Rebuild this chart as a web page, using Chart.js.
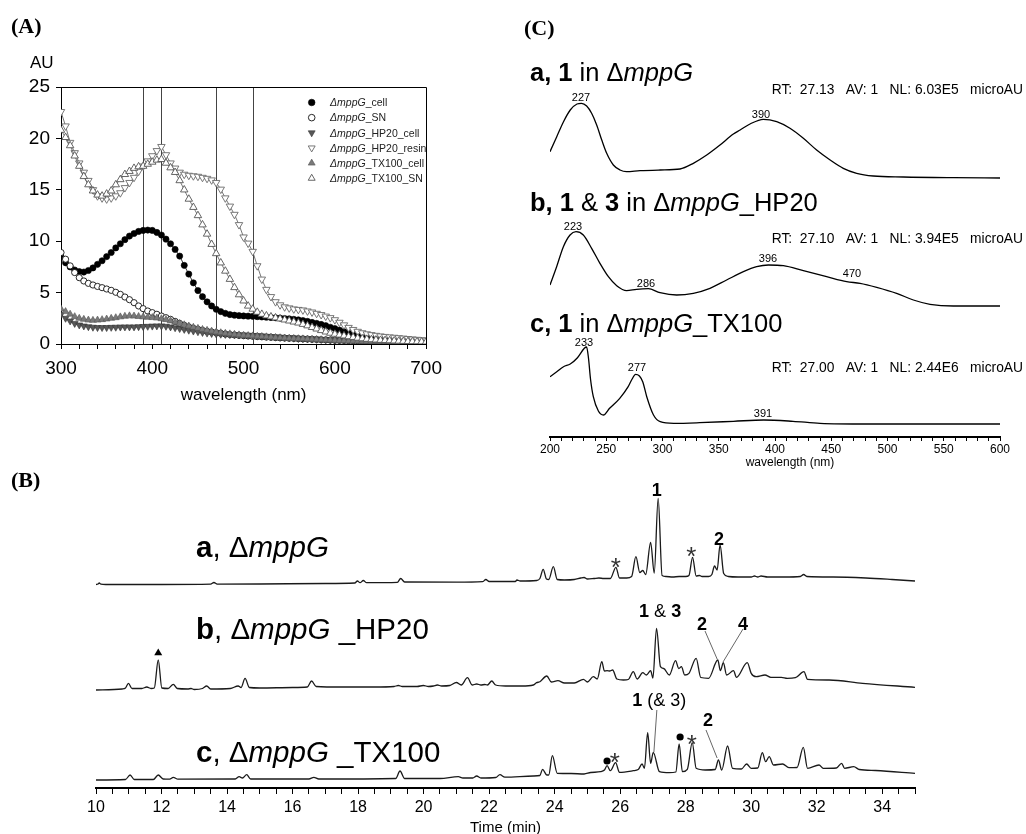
<!DOCTYPE html>
<html><head><meta charset="utf-8">
<script src="https://cdn.jsdelivr.net/npm/chart.js@4.4.1/dist/chart.umd.min.js"></script>
<style>
html,body{margin:0;padding:0;width:1026px;height:834px;overflow:hidden;background:#fff;}
canvas{position:absolute;}
</style></head><body>
<canvas id="cA" width="450" height="420" style="left:0;top:0"></canvas>
<canvas id="cC" width="506" height="470" style="left:520px;top:0"></canvas>
<canvas id="cB" width="1026" height="377" style="left:0;top:460px"></canvas>
<script>
// ================= DATA =================
// Panel A: absorbance spectra (AU) every 5 nm, 300-700 nm
const wavelengths = [];
for (let w = 300; w <= 700; w += 5) wavelengths.push(w);
const aSeriesNames = ['ΔmppG_cell','ΔmppG_SN','ΔmppG_HP20_cell','ΔmppG_HP20_resin','ΔmppG_TX100_cell','ΔmppG_TX100_SN'];
const cellAU = [8.5,7.9,7.5,7.2,7.05,7.0,7.15,7.4,7.75,8.1,
 8.5,8.9,9.35,9.75,10.15,10.5,10.75,10.95,11.05,11.08,
 11.05,10.85,10.6,10.2,9.75,9.2,8.55,7.65,6.8,5.95,
 5.2,4.6,4.1,3.7,3.38,3.15,2.98,2.86,2.8,2.76,
 2.73,2.71,2.69,2.66,2.63,2.6,2.57,2.55,2.52,2.48,
 2.45,2.4,2.35,2.28,2.2,2.1,2.0,1.9,1.78,1.63,
 1.5,1.35,1.2,1.05,0.9,0.78,0.68,0.6,0.52,0.46,
 0.41,0.37,0.34,0.31,0.28,0.25,0.22,0.19,0.16,0.13,
 0.1];
const snAU = [8.9,8.25,7.6,6.95,6.45,6.13,5.9,5.74,5.6,5.48,
 5.35,5.22,5.03,4.83,4.57,4.31,4.02,3.7,3.44,3.21,
 3.05,2.89,2.72,2.56,2.4,2.2,2.0,1.82,1.66,1.53,
 1.43,1.33,1.24,1.17,1.1,1.04,0.97,0.92,0.88,0.84,
 0.81,0.78,0.75,0.72,0.7,0.67,0.65,0.62,0.6,0.58,
 0.56,0.54,0.52,0.5,0.48,0.46,0.44,0.42,0.4,0.38,
 0.36,0.35,0.34,0.33,0.32,0.31,0.3,0.29,0.28,0.27,
 0.26,0.25,0.24,0.23,0.22,0.21,0.2,0.19,0.18,0.17,
 0.16];
const hp20CellAU = [2.9,2.5,2.24,2.0,1.85,1.75,1.68,1.63,1.6,1.6,
 1.6,1.62,1.63,1.65,1.66,1.66,1.66,1.68,1.7,1.72,
 1.74,1.76,1.76,1.72,1.66,1.58,1.5,1.42,1.34,1.26,
 1.19,1.12,1.06,1.02,0.98,0.95,0.93,0.91,0.9,0.88,
 0.87,0.85,0.83,0.81,0.78,0.75,0.72,0.69,0.66,0.63,
 0.6,0.57,0.54,0.52,0.5,0.48,0.46,0.44,0.42,0.4,
 0.38,0.36,0.34,0.32,0.3,0.29,0.28,0.27,0.26,0.25,
 0.24,0.23,0.22,0.21,0.2,0.19,0.18,0.17,0.16,0.15,
 0.14];
const hp20ResinAU = [22.6,21.2,19.6,18.6,17.6,16.7,15.9,15.0,14.4,14.2,
 14.1,14.2,14.4,14.7,15.2,15.7,16.2,16.8,17.3,17.8,
 18.3,18.8,19.2,18.4,17.6,17.1,16.7,16.5,16.4,16.35,
 16.3,16.2,16.1,15.95,15.7,15.05,14.2,13.4,12.6,11.6,
 10.4,9.8,9.0,7.6,6.3,5.3,4.6,4.1,3.8,3.6,
 3.5,3.4,3.35,3.3,3.2,3.1,2.97,2.85,2.7,2.55,
 2.35,2.1,1.85,1.6,1.4,1.22,1.08,0.98,0.9,0.83,
 0.77,0.72,0.68,0.64,0.6,0.56,0.52,0.48,0.44,0.4,
 0.36];
const tx100CellAU = [3.4,3.15,2.9,2.66,2.5,2.4,2.33,2.3,2.33,2.37,
 2.43,2.5,2.56,2.64,2.7,2.74,2.72,2.68,2.64,2.6,
 2.57,2.53,2.46,2.37,2.25,2.12,2.0,1.87,1.75,1.63,
 1.52,1.42,1.33,1.25,1.17,1.1,1.04,0.99,0.94,0.89,
 0.85,0.82,0.79,0.76,0.73,0.7,0.67,0.64,0.61,0.58,
 0.56,0.54,0.52,0.5,0.48,0.46,0.44,0.42,0.4,0.38,
 0.36,0.34,0.32,0.3,0.29,0.28,0.27,0.26,0.25,0.24,
 0.23,0.22,0.21,0.2,0.19,0.18,0.17,0.16,0.15,0.14,
 0.13];
const tx100SnAU = [20.8,20.1,19.3,18.3,17.3,16.3,15.5,14.9,14.5,14.4,
 14.6,14.9,15.5,16.0,16.5,16.8,17.1,17.25,17.3,17.5,
 17.7,17.9,17.96,17.6,17.15,16.7,15.9,15.0,14.1,13.3,
 12.5,11.6,10.7,9.7,8.8,7.9,7.1,6.3,5.5,4.8,
 4.2,3.7,3.4,3.1,2.9,2.75,2.65,2.55,2.45,2.35,
 2.25,2.15,2.05,1.92,1.78,1.62,1.47,1.32,1.18,1.06,
 0.96,0.88,0.8,0.72,0.65,0.58,0.52,0.47,0.43,0.4,
 0.37,0.35,0.33,0.31,0.29,0.27,0.25,0.24,0.23,0.22,
 0.21];
const aSeries = [cellAU, snAU, hp20CellAU, hp20ResinAU, tx100CellAU, tx100SnAU];
const aMarkedWavelengths = [390, 410, 470, 510];
const aYTicks = {min:0, max:25, step:5};
const aXTicks = {min:300, max:700, step:20, labelEvery:100};

// Panel B: HPLC chromatograms, [time (min), signal]
const bTimeTicks = {min:10, max:35, step:0.5, labelEvery:2};
const bTraceNames = [
  [['a','b'],[', ',''],['Δ',''],['mppG','i']],
  [['b','b'],[', ',''],['Δ',''],['mppG','i'],[' _HP20','']],
  [['c','b'],[', ',''],['Δ',''],['mppG','i'],[' _TX100','']]
];
const traceA = [[10.0,0],[10.06,0.5],[10.1,1.5],[10.15,0.3],[10.3,0],[12,0],[13.5,0.3],[13.6,2],[13.7,0.4],[15,0.5],[17,1],[17.9,1.5],[17.98,3.5],[18.06,1.8],[18.16,4],[18.26,1.8],[19.2,2.2],[19.3,6],[19.42,2.5],[21,2.3],[21.8,2.8],[21.9,5],[22,3],[22.8,3],[22.85,4.5],[22.95,3.5],[23.45,4],[23.55,6],[23.65,15.2],[23.75,5.5],[23.82,5],[23.96,17.8],[24.08,5],[24.3,4.5],[24.6,5],[24.8,6.5],[24.9,7],[25.0,5.5],[25.2,6],[25.35,6.5],[25.5,6],[25.7,6],[25.87,17.2],[25.98,6.5],[26.2,6.5],[26.35,8],[26.48,27.8],[26.6,12],[26.69,14],[26.78,10],[26.93,42.2],[27.04,11.5],[27.16,86.2],[27.28,9],[27.4,8],[27.6,7.5],[27.8,8],[28.0,8],[28.1,9],[28.21,27.2],[28.32,8.5],[28.42,9],[28.5,8],[28.7,8],[28.8,10],[28.88,18.5],[28.96,14.5],[29.05,39.5],[29.16,11],[29.3,8],[29.6,7.5],[30.0,7.5],[30.1,8.5],[30.2,7.5],[30.3,8.5],[30.5,7.5],[31.0,7.5],[31.5,8],[31.6,10],[31.7,8],[32.5,7.5],[33.5,6.5],[34.3,5],[35.0,3.5]];
const traceB = [[10.0,0],[10.8,1],[10.9,2],[10.99,6.7],[11.1,1.5],[11.4,1.5],[11.55,3],[11.68,1.5],[11.78,2],[11.9,30],[12.01,2],[12.2,1.5],[12.36,5.7],[12.48,1.5],[12.8,1],[12.9,1.5],[13.0,0.5],[13.25,1.5],[13.38,4],[13.5,1],[14.1,1.5],[14.34,4],[14.43,2.5],[14.55,11.7],[14.68,2.5],[15,2],[16,2.5],[16.45,3],[16.58,9],[16.72,3.5],[17.5,3],[18.04,3],[18.5,3],[19.1,3.5],[19.23,4.5],[19.35,3.5],[19.8,3.5],[19.99,4.5],[20.15,3.5],[20.3,4],[20.42,5],[20.55,4],[20.8,4.5],[21.0,7.5],[21.15,5],[21.34,12.3],[21.48,5],[21.62,6],[21.75,5],[21.87,5.5],[21.95,5],[22.08,9],[22.2,5],[22.5,4],[23.0,4],[23.35,5],[23.45,7.3],[23.55,8.3],[23.76,14],[23.9,8],[24.1,9.3],[24.3,7],[24.6,7],[24.88,10.7],[25.0,8],[25.18,13.3],[25.3,11],[25.44,28.3],[25.52,19],[25.6,19.3],[25.68,19],[25.77,20],[25.9,11],[26.1,10],[26.25,10.5],[26.4,18.3],[26.52,11],[26.69,17.3],[26.8,15],[26.93,19.3],[27.0,12],[27.11,61.7],[27.23,23.3],[27.33,21.5],[27.5,15],[27.69,29.3],[27.79,21.5],[27.87,23.3],[27.97,15],[28.1,16.7],[28.32,31.7],[28.46,12.5],[28.7,11.7],[28.98,30],[29.06,19.3],[29.15,27.3],[29.25,15],[29.46,19.3],[29.55,12.7],[29.88,27.3],[30.0,16.7],[30.15,13.3],[30.42,15],[30.6,12.7],[30.92,12.7],[31.1,11.7],[31.35,12.3],[31.61,18.3],[31.72,10.7],[32.38,10],[33.4,6.7],[35.0,2.7]];
const traceC = [[10.0,0],[10.9,0.5],[11.04,5],[11.17,0.5],[11.75,0.5],[11.9,5],[12.05,1],[12.25,0.8],[12.36,2.7],[12.5,0.8],[14.25,1],[14.37,3.3],[14.47,2],[14.6,5.3],[14.72,1],[16.5,1],[16.65,2.7],[16.8,1],[19.15,1.5],[19.28,9],[19.42,1.5],[20.5,1.5],[21.06,3.3],[21.2,2],[21.5,2],[21.62,4],[21.75,2],[22.2,2.5],[22.33,5.3],[22.48,2.8],[23.35,4],[23.55,4.5],[23.63,10.7],[23.76,5],[23.82,5],[23.93,24.3],[24.08,6.7],[24.5,6.5],[24.9,6],[25.1,7.5],[25.4,8.3],[25.52,10],[25.6,14.3],[25.7,9.3],[25.86,17.3],[25.98,7.7],[26.4,9.3],[26.55,10.5],[26.67,16],[26.74,11.7],[26.84,47.3],[26.93,16.7],[27.01,27.7],[27.2,8.3],[27.5,7.3],[27.7,8],[27.8,36],[27.9,8.3],[28.05,10.7],[28.2,37.3],[28.32,11.7],[28.6,10],[28.9,10.5],[29.0,20],[29.1,10],[29.28,34],[29.43,11.7],[29.7,11],[29.86,16],[30.0,11.7],[30.2,12],[30.34,27.3],[30.44,18.3],[30.55,23.3],[30.68,15],[30.96,16],[31.15,12.3],[31.4,12.5],[31.59,32.7],[31.72,11.7],[32.07,15],[32.2,11.7],[32.6,12],[32.76,16.7],[32.85,11.7],[33.13,13.3],[33.3,10.5],[33.8,9.5],[35.0,6.7]];
const bTraces = [traceA, traceB, traceC];
const bOffsets = [203.5, 98, 8];           // vertical stacking of the three traces
// peak annotations: trace, time, level above trace baseline, text segments
const bNotes = [
  {tr:0, t:27.12, v:94.5, segs:[['1','b']]},
  {tr:0, t:29.02, v:45.5, segs:[['2','b']]},
  {tr:0, t:25.87, v:23.5, star:true},
  {tr:0, t:28.17, v:34.5, star:true},
  {tr:1, t:27.22, v:79, segs:[['1','b'],[' & ',''],['3','b']]},
  {tr:1, t:28.5, v:66, segs:[['2','b']]},
  {tr:1, t:29.75, v:66, segs:[['4','b']]},
  {tr:2, t:27.19, v:80, segs:[['1','b'],[' (& 3)','']]},
  {tr:2, t:28.68, v:60, segs:[['2','b']]},
  {tr:2, t:25.84, v:24, star:true},
  {tr:2, t:28.19, v:42, star:true}
];
const bDots = [{tr:2, t:25.6, v:19}, {tr:2, t:27.83, v:43}];
const bTriangles = [{tr:1, t:11.9, v:38}];
const bLeaders = [
  {tr:1, t1:28.59, v1:59, t2:28.96, v2:31},
  {tr:1, t1:29.75, v1:61, t2:29.14, v2:28},
  {tr:2, t1:27.12, v1:70, t2:27.03, v2:28},
  {tr:2, t1:28.62, v1:50, t2:28.96, v2:22}
];

// Panel C: UV spectra, [wavelength (nm), signal]
const cWaveTicks = {min:200, max:600, step:10, labelEvery:50};
const specA = [[200,26.3],[206,41.3],[212,56.3],[218,68],[224,74],[228,74.7],[232.6,72],[237,64.7],[241.5,53],[246,38],[250.4,24.7],[256.3,13],[262.2,8],[268,6.3],[280,7.3],[298,8],[315.6,9],[327.4,14.7],[339.3,23],[351.1,33],[363,44],[369,48],[377.8,54],[389.6,58.7],[401.5,56.3],[413.3,49.7],[425.2,39.7],[437,28],[449,18],[460.7,9.7],[472.6,4.7],[487.4,2],[514,1],[558.5,0.3],[600,0]];
const specB = [[200,21],[205.9,39.3],[211.9,59.3],[217.8,71],[223.1,74.3],[229.6,71],[237,57.7],[244.4,42.7],[251.9,29.3],[259.3,20.3],[268.1,15.3],[277,16.7],[287.4,17.3],[297.8,13.3],[312.6,11],[327.4,12.7],[342.2,17.7],[357,26],[371.9,34.3],[383.7,39.3],[394.1,41],[407.4,40.3],[425.2,35.3],[445.9,29.3],[463.7,24.3],[475.6,22.7],[490.4,18.7],[508.1,12.7],[523,6],[537.8,1.7],[558.5,0],[600,0]];
const specC = [[200,47.3],[206,52.3],[212,57.3],[218,60],[224,65.7],[230.5,75.7],[232.5,77],[234.2,66],[236,45],[238.5,27.3],[243,13],[247.5,9],[253,15.7],[262,25.7],[269.5,37.3],[273,45],[276,49.7],[279.5,48],[282.5,42],[286,27.3],[292,9],[298,2.3],[310,0.7],[333,1.3],[363,2.7],[390,4],[416,2.7],[440,0.7],[482,0],[600,0]];
const cSpectra = [specA, specB, specC];
const cOffsets = [259, 131, 13];
const cTitles = [
  [['a, 1','b'],[' in ',''],['Δ',''],['mppG','i']],
  [['b, 1','b'],[' & ',''],['3','b'],[' in ',''],['Δ',''],['mppG','i'],['_HP20','']],
  [['c, 1','b'],[' in ',''],['Δ',''],['mppG','i'],['_TX100','']]
];
const cInfo = ['RT:  27.13   AV: 1   NL: 6.03E5   microAU',
               'RT:  27.10   AV: 1   NL: 3.94E5   microAU',
               'RT:  27.00   AV: 1   NL: 2.44E6   microAU'];
const cPeakLabels = [
  {tr:0, x:227.6, v:81, text:'227'}, {tr:0, x:387.6, v:64, text:'390'},
  {tr:1, x:220.4, v:80, text:'223'}, {tr:1, x:285.3, v:23, text:'286'},
  {tr:1, x:393.8, v:48, text:'396'}, {tr:1, x:468.4, v:33, text:'470'},
  {tr:2, x:230.2, v:82, text:'233'}, {tr:2, x:277.3, v:57, text:'277'},
  {tr:2, x:389.3, v:11, text:'391'}
];

// ================= HELPERS =================
const SANS = '"Liberation Sans", Arial, Helvetica, sans-serif';
const SERIF = '"Liberation Serif", "Times New Roman", serif';
function fnt(st, size, fam){ return (st.includes('i')?'italic ':'')+(st.includes('b')?'bold ':'')+size+'px '+(fam||SANS); }
function rich(ctx, x, y, segs, size, align, color){
  ctx.save(); ctx.textBaseline='alphabetic'; ctx.textAlign='left'; ctx.fillStyle=color||'#000';
  const w = segs.map(([t,s])=>{ctx.font=fnt(s,size); return ctx.measureText(t).width;});
  const tot = w.reduce((a,b)=>a+b,0);
  let cx = align==='center'? x-tot/2 : align==='right'? x-tot : x;
  segs.forEach(([t,s],i)=>{ctx.font=fnt(s,size); ctx.fillText(t,cx,y); cx+=w[i];});
  ctx.restore();
}
function marker(ctx, style, x, y, r, fill, stroke, lw, inverted){
  ctx.save(); ctx.beginPath();
  if (style==='circle') ctx.arc(x,y,r,0,Math.PI*2);
  else { const s = inverted?-1:1;
    ctx.moveTo(x, y-s*r); ctx.lineTo(x+r*0.866, y+s*r*0.5); ctx.lineTo(x-r*0.866, y+s*r*0.5); ctx.closePath(); }
  ctx.fillStyle=fill; ctx.fill(); if (lw>0){ctx.lineWidth=lw; ctx.strokeStyle=stroke; ctx.stroke();}
  ctx.restore();
}
function isMult(v, m){ const q=v/m; return Math.abs(q-Math.round(q))<1e-6; }

// ================= PANEL A =================
const aStyles = [
  {ps:'circle', inv:false, r:3.1, fill:'#000', stroke:'#000', line:'#000'},
  {ps:'circle', inv:false, r:3.1, fill:'#fff', stroke:'#111', line:'#222'},
  {ps:'triangle', inv:true, r:4.0, fill:'#585858', stroke:'#333', line:'#444'},
  {ps:'triangle', inv:true, r:4.3, fill:'#fff', stroke:'#6a6a6a', line:'#555'},
  {ps:'triangle', inv:false, r:4.0, fill:'#7a7a7a', stroke:'#555', line:'#555'},
  {ps:'triangle', inv:false, r:4.3, fill:'#fff', stroke:'#555', line:'#555'}
];
const aPlugin = {
  id:'aDecor',
  beforeDatasetsDraw(chart){
    const {ctx, chartArea:ca, scales:{x}} = chart;
    ctx.save(); ctx.strokeStyle='#444'; ctx.lineWidth=1;
    aMarkedWavelengths.forEach(w=>{ const p=Math.round(x.getPixelForValue(w))+0.5;
      ctx.beginPath(); ctx.moveTo(p,ca.top); ctx.lineTo(p,ca.bottom); ctx.stroke(); });
    ctx.restore();
  },
  afterDraw(chart){
    const {ctx, chartArea:ca} = chart;
    ctx.save(); ctx.strokeStyle='#000'; ctx.lineWidth=1;
    ctx.beginPath(); ctx.moveTo(ca.left, Math.round(ca.top)+0.5); ctx.lineTo(Math.round(ca.right)+0.5, Math.round(ca.top)+0.5);
    ctx.lineTo(Math.round(ca.right)+0.5, ca.bottom); ctx.stroke(); ctx.restore();
    // legend
    aSeriesNames.forEach((n,i)=>{
      const st=aStyles[i]; const y=102.5+i*15.15;
      marker(ctx, st.ps, 311.7, y, st.ps==='circle'?3.3:4.0, st.fill, st.stroke, st.fill==='#fff'?0.9:0.6, st.inv);
      const k=n.indexOf('mppG');
      rich(ctx, 330, y+3.8, [[n.slice(0,k),'i'],['mppG','i'],[n.slice(k+4),'']], 10.5, 'left', '#222');
    });
    rich(ctx, 30, 68, [['AU','']], 17);
    ctx.save(); ctx.font='bold 22px '+SERIF; ctx.fillStyle='#000'; ctx.fillText('(A)', 11, 33); ctx.restore();
  }
};
new Chart(document.getElementById('cA'), {
  type:'line',
  data:{ datasets: aSeries.map((vals,i)=>({
    data: vals.map((v,j)=>({x:wavelengths[j], y:v})),
    showLine:true, borderColor:aStyles[i].line, borderWidth:0.8,
    pointStyle:aStyles[i].ps, pointRotation:aStyles[i].inv?180:0, pointRadius:aStyles[i].r,
    pointBackgroundColor:aStyles[i].fill, pointBorderColor:aStyles[i].stroke,
    pointBorderWidth:aStyles[i].fill==='#fff'?0.9:0.6, order:5-i, tension:0
  }))},
  options:{
    responsive:false, animation:false, events:[],
    layout:{padding:{top:87, right:18, left:0, bottom:0}},
    plugins:{legend:{display:false}, tooltip:{enabled:false}},
    scales:{
      x:{type:'linear', min:aXTicks.min, max:aXTicks.max,
        ticks:{stepSize:aXTicks.step, autoSkip:false, maxRotation:0, padding:8, color:'#000',
          font:{family:SANS, size:19}, callback:v=>isMult(v,aXTicks.labelEvery)?String(v):''},
        grid:{display:true, drawOnChartArea:false, drawTicks:true, tickLength:5, color:'#000'},
        border:{display:true, color:'#000', width:1},
        title:{display:true, text:'wavelength (nm)', color:'#000', font:{family:SANS, size:17}, padding:{top:0,bottom:14}},
        afterFit:s=>{s.height=76;}},
      y:{min:aYTicks.min, max:aYTicks.max,
        ticks:{stepSize:aYTicks.step, padding:6, color:'#000', font:{family:SANS, size:19}},
        grid:{display:true, drawOnChartArea:false, drawTicks:true, tickLength:5, color:'#000'},
        border:{display:true, color:'#000', width:1},
        afterFit:s=>{s.width=61;}}
    }
  },
  plugins:[aPlugin]
});

// ================= PANEL C =================
const cPlugin = {
  id:'cDecor',
  afterDraw(chart){
    const {ctx, scales:{x,y}} = chart;
    ctx.save(); ctx.font='bold 22px '+SERIF; ctx.fillStyle='#000'; ctx.fillText('(C)', 4, 35); ctx.restore();
    const titleBase=[81,211,332], infoBase=[94,243,372];
    cTitles.forEach((t,i)=>rich(ctx, 10, titleBase[i], t, 25.5));
    cInfo.forEach((t,i)=>{ ctx.save(); ctx.font='13.8px '+SANS; ctx.fillStyle='#000'; ctx.textAlign='right'; ctx.fillText(t, 503, infoBase[i]); ctx.restore(); });
    ctx.save(); ctx.font='11px '+SANS; ctx.fillStyle='#000'; ctx.textAlign='center'; ctx.textBaseline='alphabetic';
    cPeakLabels.forEach(p=>{ ctx.fillText(p.text, x.getPixelForValue(p.x), y.getPixelForValue(p.v+cOffsets[p.tr])+4); });
    ctx.restore();
    ctx.save(); ctx.font='12px '+SANS; ctx.fillStyle='#000'; ctx.textAlign='center'; ctx.fillText('wavelength (nm)', 270, 466); ctx.restore();
  }
};
new Chart(document.getElementById('cC'), {
  type:'line',
  data:{ datasets: cSpectra.map((s,i)=>({
    data: s.map(([w,v])=>({x:w, y:v+cOffsets[i]})),
    borderColor:'#000', borderWidth:1.3, pointRadius:0, cubicInterpolationMode:'monotone', fill:false
  }))},
  options:{
    responsive:false, animation:false, events:[],
    layout:{padding:{top:90, right:26, left:30, bottom:0}},
    plugins:{legend:{display:false}, tooltip:{enabled:false}},
    scales:{
      x:{type:'linear', min:cWaveTicks.min, max:cWaveTicks.max,
        ticks:{stepSize:cWaveTicks.step, autoSkip:false, maxRotation:0, padding:1, color:'#000',
          font:{family:SANS, size:12}, callback:v=>isMult(v,cWaveTicks.labelEvery)?String(v):''},
        grid:{display:true, drawOnChartArea:false, drawTicks:true, tickLength:4, color:'#000'},
        border:{display:true, color:'#000', width:2},
        afterFit:s=>{s.height=33;}},
      y:{display:false, min:0, max:347}
    }
  },
  plugins:[cPlugin]
});

// ================= PANEL B =================
const bPlugin = {
  id:'bDecor',
  afterDraw(chart){
    const {ctx, scales:{x,y}} = chart;
    const P=(tr,t,v)=>[x.getPixelForValue(t), y.getPixelForValue(v+bOffsets[tr])];
    ctx.save(); ctx.font='bold 22px '+SERIF; ctx.fillStyle='#000'; ctx.fillText('(B)', 11, 27); ctx.restore();
    const nameBase=[96.5,178.5,301.5];
    bTraceNames.forEach((n,i)=>rich(ctx, 196, nameBase[i], n, 29.5));
    ctx.save(); ctx.strokeStyle='#666'; ctx.lineWidth=1;
    bLeaders.forEach(l=>{ const [x1,y1]=P(l.tr,l.t1,l.v1), [x2,y2]=P(l.tr,l.t2,l.v2);
      ctx.beginPath(); ctx.moveTo(x1,y1); ctx.lineTo(x2,y2); ctx.stroke(); });
    ctx.restore();
    bNotes.forEach(n=>{ const [px,py]=P(n.tr,n.t,n.v);
      if (n.star){ ctx.save(); ctx.font='26px '+SANS; ctx.fillStyle='#333'; ctx.textAlign='center'; ctx.fillText('*', px, py+0.58*26); ctx.restore(); }
      else rich(ctx, px, py+0.358*18, n.segs, 18, 'center');
    });
    bDots.forEach(d=>{ const [px,py]=P(d.tr,d.t,d.v); marker(ctx,'circle',px,py,3.6,'#000','#000',0,false); });
    bTriangles.forEach(d=>{ const [px,py]=P(d.tr,d.t,d.v); marker(ctx,'triangle',px,py+1,4.6,'#000','#000',0,false); });
  }
};
new Chart(document.getElementById('cB'), {
  type:'line',
  data:{ datasets: bTraces.map((tr,i)=>({
    data: tr.map(([t,v])=>({x:t, y:v+bOffsets[i]})),
    borderColor:'#1a1a1a', borderWidth:1.3, pointRadius:0, cubicInterpolationMode:'monotone', fill:false
  }))},
  options:{
    responsive:false, animation:false, events:[],
    layout:{padding:{top:20, right:111, left:96, bottom:0}},
    plugins:{legend:{display:false}, tooltip:{enabled:false}},
    scales:{
      x:{type:'linear', min:bTimeTicks.min, max:bTimeTicks.max,
        ticks:{stepSize:bTimeTicks.step, autoSkip:false, maxRotation:0, padding:4, color:'#000',
          font:{family:SANS, size:16}, callback:v=>isMult(v,bTimeTicks.labelEvery)?String(v):''},
        grid:{display:true, drawOnChartArea:false, drawTicks:true, tickLength:6, color:'#000'},
        border:{display:true, color:'#000', width:2},
        title:{display:true, text:'Time (min)', color:'#000', font:{family:SANS, size:15}, padding:{top:0,bottom:0}},
        afterFit:s=>{s.height=49;}},
      y:{display:false, min:0, max:308}
    }
  },
  plugins:[bPlugin]
});
</script>
</body></html>
